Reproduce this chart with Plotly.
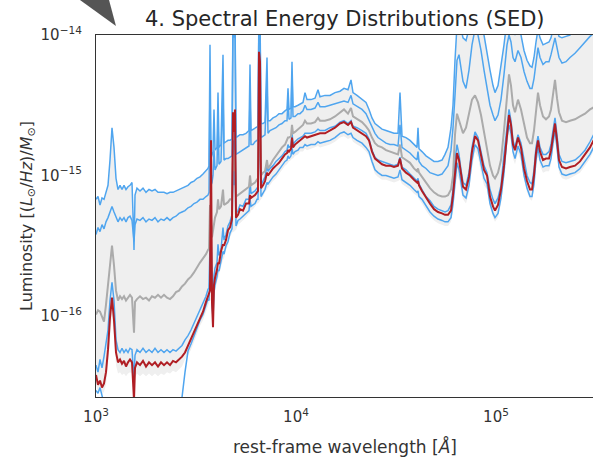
import numpy as np
import plotly.graph_objects as go

# ---------------------------------------------------------------------------
# Rest-frame wavelength grid, log10(lambda / Angstrom)
# ---------------------------------------------------------------------------
log_wave = [
    # UV
    3.000, 3.010, 3.020, 3.030, 3.040, 3.050, 3.060, 3.070, 3.080, 3.090,
    3.100, 3.110, 3.120, 3.130, 3.140, 3.150, 3.160, 3.170, 3.180, 3.185,
    3.190, 3.195, 3.205, 3.220, 3.235, 3.250, 3.265, 3.280, 3.295, 3.310,
    3.325, 3.340, 3.355, 3.370, 3.385, 3.400, 3.415, 3.430, 3.445, 3.460,
    3.475, 3.490, 3.505, 3.520, 3.535, 3.550, 3.560,
    # optical
    3.565, 3.570, 3.575, 3.580, 3.585, 3.590, 3.595, 3.605, 3.610, 3.615,
    3.625, 3.635, 3.640, 3.650, 3.660, 3.670, 3.680, 3.685, 3.690, 3.695,
    3.700, 3.710, 3.720, 3.735, 3.750, 3.765, 3.770, 3.775, 3.785, 3.795,
    3.805, 3.810, 3.815, 3.820, 3.825, 3.835, 3.845, 3.855, 3.860, 3.870,
    3.885, 3.900, 3.915, 3.930, 3.945, 3.955, 3.960, 3.965, 3.975, 3.980,
    3.985, 3.995, 4.010, 4.020,
    # infrared
    4.035, 4.045, 4.055, 4.075, 4.095, 4.110, 4.120, 4.145, 4.170, 4.195,
    4.220, 4.240, 4.260, 4.275, 4.285, 4.305, 4.330, 4.350, 4.365, 4.380,
    4.395, 4.410, 4.430, 4.450, 4.470, 4.490, 4.510, 4.520, 4.530, 4.550,
    4.570, 4.590, 4.605, 4.610, 4.615, 4.630, 4.650, 4.670, 4.690, 4.710,
    4.730, 4.745, 4.760, 4.775, 4.785, 4.795, 4.805, 4.815, 4.825, 4.835,
    4.850, 4.865, 4.880, 4.895, 4.910, 4.925, 4.940, 4.955, 4.970, 4.985,
    4.995, 5.010, 5.025, 5.040, 5.055, 5.065, 5.075, 5.085, 5.095, 5.110,
    5.125, 5.140, 5.155, 5.170, 5.180, 5.190, 5.200, 5.210, 5.220, 5.235,
    5.250, 5.265, 5.275, 5.285, 5.295, 5.305, 5.315, 5.330, 5.350, 5.370,
    5.395, 5.420, 5.445, 5.470, 5.495,
]

# ---------------------------------------------------------------------------
# log10 luminosity per unit mass [(Lsun/Hz)/Msun]
# ---------------------------------------------------------------------------
# blue model SED 1 (brightest)
log_sed_1 = [
    -15.17, -15.15, -15.21, -15.16, -15.17, -15.12, -15.07, -14.89, -14.66, -14.80,
    -15.02, -15.10, -15.07, -15.10, -15.07, -15.10, -15.08, -15.07, -15.05, -15.28,
    -15.53, -15.14, -15.09, -15.11, -15.09, -15.12, -15.10, -15.11, -15.10, -15.12,
    -15.12, -15.12, -15.13, -15.12, -15.12, -15.11, -15.10, -15.09, -15.08, -15.07,
    -15.05, -15.04, -15.02, -15.01, -14.99, -14.97, -14.95,
    -14.93, -14.07, -14.88, -14.86, -14.83, -14.53, -14.82, -14.80, -14.41, -14.80,
    -14.78, -14.14, -14.77, -14.76, -14.75, -14.75, -14.74, -13.86, -13.95, -13.84,
    -14.73, -14.72, -14.71, -14.71, -14.70, -14.68, -14.21, -14.68, -14.67, -14.66,
    -14.65, -14.65, -13.75, -13.82, -14.63, -14.63, -14.62, -14.16, -14.61, -14.61,
    -14.59, -14.58, -14.56, -14.56, -14.54, -14.53, -14.38, -14.53, -14.52, -14.19,
    -14.51, -14.51, -14.50, -14.49,
    -14.48, -14.41, -14.46, -14.46, -14.45, -14.39, -14.44, -14.43, -14.43, -14.41,
    -14.40, -14.38, -14.39, -14.32, -14.41, -14.43, -14.46, -14.48, -14.53, -14.59,
    -14.63, -14.65, -14.67, -14.68, -14.69, -14.70, -14.70, -14.41, -14.72, -14.73,
    -14.75, -14.78, -14.80, -14.66, -14.81, -14.83, -14.86, -14.88, -14.90, -14.90,
    -14.89, -14.85, -14.80, -14.66, -14.50, -14.18, -13.93, -13.89, -13.96, -14.02,
    -14.04, -13.96, -13.86, -13.79, -13.82, -13.89, -14.00, -14.14, -14.25, -14.36,
    -14.41, -14.36, -14.23, -14.07, -13.89, -13.84, -13.88, -13.96, -14.00, -13.95,
    -14.00, -14.11, -14.18, -14.22, -14.23, -14.16, -14.05, -13.96, -14.02, -14.07,
    -14.06, -14.05, -14.02, -13.96, -13.93, -13.96, -14.01, -14.02, -14.01, -14.00,
    -13.96, -13.92, -13.87, -13.81, -13.75,
]

# blue model SED 2
log_sed_2 = [
    -15.42, -15.37, -15.40, -15.35, -15.38, -15.33, -15.30, -15.26, -15.22, -15.26,
    -15.30, -15.33, -15.30, -15.32, -15.30, -15.33, -15.30, -15.29, -15.32, -15.40,
    -15.47, -15.35, -15.31, -15.32, -15.30, -15.33, -15.31, -15.32, -15.30, -15.33,
    -15.31, -15.32, -15.30, -15.32, -15.30, -15.29, -15.27, -15.26, -15.25, -15.23,
    -15.22, -15.20, -15.19, -15.17, -15.17, -15.15, -15.14,
    -15.12, -14.32, -15.07, -15.05, -15.00, -14.82, -14.96, -14.93, -14.61, -14.92,
    -14.90, -14.39, -14.89, -14.88, -14.88, -14.87, -14.86, -13.91, -14.02, -13.88,
    -14.85, -14.84, -14.83, -14.82, -14.80, -14.79, -14.43, -14.78, -14.78, -14.76,
    -14.75, -14.74, -13.79, -13.86, -14.73, -14.72, -14.71, -14.32, -14.70, -14.68,
    -14.67, -14.66, -14.64, -14.63, -14.61, -14.61, -14.46, -14.60, -14.59, -14.28,
    -14.58, -14.58, -14.56, -14.56,
    -14.54, -14.50, -14.53, -14.53, -14.52, -14.48, -14.51, -14.51, -14.50, -14.49,
    -14.48, -14.47, -14.48, -14.43, -14.49, -14.51, -14.53, -14.56, -14.61, -14.66,
    -14.70, -14.73, -14.75, -14.77, -14.78, -14.78, -14.79, -14.64, -14.80, -14.82,
    -14.84, -14.87, -14.89, -14.83, -14.90, -14.93, -14.95, -14.98, -14.99, -15.00,
    -14.99, -14.96, -14.93, -14.82, -14.66, -14.43, -14.18, -14.14, -14.25, -14.33,
    -14.38, -14.25, -14.07, -13.96, -14.00, -14.11, -14.25, -14.39, -14.50, -14.57,
    -14.61, -14.57, -14.46, -14.28, -14.07, -14.00, -14.05, -14.16, -14.19, -14.11,
    -14.16, -14.26, -14.33, -14.38, -14.38, -14.31, -14.19, -14.09, -14.16, -14.21,
    -14.19, -14.19, -14.14, -14.07, -14.02, -14.09, -14.16, -14.20, -14.19, -14.16,
    -14.13, -14.09, -14.05, -14.01, -13.98,
]

# median of the posterior SEDs
log_median = [
    -15.99, -15.96, -15.97, -16.01, -16.04, -15.92, -15.78, -15.62, -15.50, -15.64,
    -15.82, -15.89, -15.86, -15.88, -15.86, -15.89, -15.87, -15.85, -15.87, -16.01,
    -16.12, -15.90, -15.88, -15.86, -15.88, -15.87, -15.89, -15.86, -15.87, -15.85,
    -15.87, -15.85, -15.87, -15.88, -15.86, -15.83, -15.82, -15.79, -15.77, -15.74,
    -15.72, -15.69, -15.65, -15.62, -15.59, -15.56, -15.53,
    -15.52, -15.21, -15.28, -15.44, -15.40, -15.35, -15.30, -15.26, -15.17, -15.24,
    -15.22, -15.10, -15.21, -15.20, -15.19, -15.17, -15.17, -14.85, -14.97, -14.82,
    -15.15, -15.14, -15.13, -15.11, -15.10, -15.08, -15.00, -15.07, -15.06, -15.05,
    -15.03, -15.02, -14.53, -14.64, -15.00, -14.98, -14.97, -14.89, -14.95, -14.93,
    -14.89, -14.86, -14.83, -14.80, -14.78, -14.75, -14.73, -14.73, -14.72, -14.64,
    -14.70, -14.69, -14.67, -14.66,
    -14.64, -14.61, -14.63, -14.63, -14.62, -14.59, -14.61, -14.61, -14.60, -14.58,
    -14.55, -14.53, -14.56, -14.52, -14.58, -14.60, -14.62, -14.65, -14.68, -14.73,
    -14.77, -14.79, -14.80, -14.82, -14.83, -14.84, -14.85, -14.78, -14.87, -14.89,
    -14.91, -14.95, -14.97, -14.95, -14.98, -15.01, -15.05, -15.09, -15.12, -15.14,
    -15.15, -15.15, -15.14, -15.10, -15.00, -14.71, -14.56, -14.61, -14.66, -14.70,
    -14.66, -14.57, -14.46, -14.43, -14.48, -14.57, -14.69, -14.82, -14.93, -15.00,
    -15.02, -14.98, -14.89, -14.68, -14.43, -14.28, -14.36, -14.50, -14.55, -14.46,
    -14.53, -14.64, -14.73, -14.77, -14.77, -14.68, -14.53, -14.41, -14.50, -14.58,
    -14.60, -14.58, -14.53, -14.41, -14.32, -14.45, -14.55, -14.61, -14.62, -14.61,
    -14.60, -14.58, -14.56, -14.53, -14.51,
]

# blue model SED 3
log_sed_3 = [
    -16.35, -16.40, -16.31, -16.37, -16.29, -16.21, -16.10, -15.89, -15.76, -15.89,
    -16.17, -16.24, -16.26, -16.23, -16.26, -16.24, -16.26, -16.23, -16.24, -16.35,
    -16.44, -16.28, -16.24, -16.26, -16.23, -16.26, -16.24, -16.26, -16.23, -16.26,
    -16.24, -16.26, -16.24, -16.26, -16.24, -16.25, -16.23, -16.21, -16.17, -16.14,
    -16.10, -16.05, -16.01, -15.96, -15.91, -15.86, -15.81,
    -15.80, -15.49, -15.39, -15.76, -15.89, -15.71, -15.66, -15.62, -15.49, -15.57,
    -15.53, -15.37, -15.46, -15.42, -15.36, -15.33, -15.28, -14.75, -14.93, -14.64,
    -15.27, -15.25, -15.21, -15.22, -15.17, -15.17, -15.03, -15.13, -15.12, -15.11,
    -15.09, -15.08, -14.36, -14.46, -15.07, -15.04, -15.01, -14.93, -14.97, -14.95,
    -14.93, -14.90, -14.88, -14.86, -14.83, -14.82, -14.78, -14.80, -14.79, -14.69,
    -14.78, -14.76, -14.74, -14.73,
    -14.72, -14.70, -14.70, -14.70, -14.69, -14.67, -14.68, -14.68, -14.66, -14.65,
    -14.62, -14.61, -14.63, -14.61, -14.65, -14.66, -14.68, -14.70, -14.74, -14.82,
    -14.87, -14.89, -14.90, -14.91, -14.92, -14.93, -14.92, -14.87, -14.94, -14.96,
    -14.99, -15.02, -15.04, -15.02, -15.06, -15.10, -15.15, -15.18, -15.22, -15.24,
    -15.25, -15.26, -15.25, -15.21, -15.10, -14.89, -14.78, -14.85, -14.96, -15.05,
    -15.07, -14.98, -14.80, -14.69, -14.73, -14.83, -14.93, -14.98, -15.10, -15.17,
    -15.20, -15.16, -15.07, -14.85, -14.64, -14.53, -14.61, -14.75, -14.80, -14.71,
    -14.77, -14.90, -15.00, -15.05, -15.06, -14.96, -14.80, -14.72, -14.80, -14.85,
    -14.85, -14.83, -14.78, -14.68, -14.59, -14.71, -14.85, -14.90, -14.91, -14.90,
    -14.89, -14.86, -14.82, -14.76, -14.69,
]

# best-fit SED
log_best = [
    -16.42, -16.49, -16.46, -16.51, -16.48, -16.40, -16.24, -16.01, -15.87, -16.03,
    -16.26, -16.33, -16.31, -16.34, -16.32, -16.36, -16.33, -16.31, -16.33, -16.49,
    -16.60, -16.37, -16.33, -16.35, -16.32, -16.36, -16.33, -16.35, -16.33, -16.36,
    -16.33, -16.35, -16.33, -16.35, -16.32, -16.33, -16.31, -16.29, -16.26, -16.21,
    -16.17, -16.12, -16.07, -16.01, -15.97, -15.90, -15.85,
    -15.84, -15.82, -14.75, -15.90, -16.08, -15.78, -15.73, -15.67, -15.62, -15.63,
    -15.54, -15.49, -15.50, -15.46, -15.39, -15.37, -15.31, -14.55, -14.69, -14.53,
    -15.30, -15.28, -15.24, -15.25, -15.20, -15.20, -15.14, -15.16, -15.15, -15.14,
    -15.12, -15.11, -14.12, -14.19, -15.09, -15.07, -15.04, -14.98, -15.00, -14.98,
    -14.95, -14.93, -14.91, -14.88, -14.85, -14.84, -14.82, -14.83, -14.81, -14.73,
    -14.80, -14.78, -14.76, -14.75,
    -14.73, -14.72, -14.73, -14.72, -14.71, -14.70, -14.70, -14.70, -14.68, -14.66,
    -14.63, -14.62, -14.64, -14.62, -14.66, -14.68, -14.70, -14.72, -14.75, -14.83,
    -14.88, -14.90, -14.92, -14.93, -14.93, -14.94, -14.93, -14.88, -14.95, -14.98,
    -15.00, -15.03, -15.05, -15.04, -15.07, -15.11, -15.16, -15.20, -15.24, -15.26,
    -15.27, -15.28, -15.28, -15.25, -15.14, -14.96, -14.84, -14.89, -15.00, -15.08,
    -15.10, -15.01, -14.83, -14.72, -14.75, -14.87, -14.96, -15.00, -15.15, -15.22,
    -15.25, -15.21, -15.10, -14.93, -14.68, -14.57, -14.64, -14.78, -14.82, -14.73,
    -14.80, -14.95, -15.04, -15.10, -15.10, -15.00, -14.84, -14.75, -14.83, -14.89,
    -14.88, -14.88, -14.82, -14.71, -14.63, -14.75, -14.89, -14.94, -14.95, -14.94,
    -14.93, -14.90, -14.85, -14.80, -14.73,
]

# blue model SED 4 (faintest)
log_sed_4 = [
    -16.53, -16.55, -16.51, -16.57, -16.61, -16.68, -16.70, -16.70, -16.70, -16.70,
    -16.70, -16.70, -16.70, -16.70, -16.70, -16.70, -16.70, -16.70, -16.70, -16.70,
    -16.70, -16.70, -16.70, -16.70, -16.70, -16.70, -16.70, -16.70, -16.70, -16.70,
    -16.70, -16.70, -16.70, -16.70, -16.70, -16.70, -16.68, -16.58, -16.40, -16.25,
    -16.20, -16.14, -16.09, -16.03, -15.99, -15.93, -15.88,
    -15.89, -15.64, -15.53, -15.92, -16.01, -15.83, -15.78, -15.72, -15.67, -15.68,
    -15.62, -15.54, -15.56, -15.50, -15.47, -15.41, -15.38, -14.96, -15.07, -14.85,
    -15.36, -15.32, -15.31, -15.29, -15.27, -15.25, -15.17, -15.22, -15.21, -15.20,
    -15.17, -15.17, -14.64, -14.75, -15.15, -15.12, -15.10, -15.05, -15.06, -15.04,
    -15.01, -14.99, -14.96, -14.93, -14.90, -14.89, -14.86, -14.88, -14.86, -14.80,
    -14.85, -14.83, -14.82, -14.80,
    -14.80, -14.78, -14.79, -14.78, -14.78, -14.76, -14.77, -14.76, -14.75, -14.73,
    -14.70, -14.69, -14.71, -14.70, -14.73, -14.75, -14.77, -14.80, -14.83, -14.90,
    -14.96, -14.98, -15.00, -15.00, -15.01, -15.02, -15.01, -14.96, -15.03, -15.05,
    -15.07, -15.10, -15.12, -15.11, -15.15, -15.17, -15.22, -15.26, -15.29, -15.31,
    -15.32, -15.33, -15.33, -15.30, -15.20, -15.03, -14.91, -14.96, -15.07, -15.14,
    -15.16, -15.07, -14.89, -14.78, -14.81, -14.93, -15.02, -15.06, -15.20, -15.27,
    -15.30, -15.27, -15.16, -14.98, -14.73, -14.64, -14.70, -14.83, -14.88, -14.79,
    -14.85, -15.00, -15.09, -15.15, -15.15, -15.06, -14.89, -14.80, -14.89, -14.94,
    -14.93, -14.93, -14.88, -14.77, -14.68, -14.80, -14.94, -14.99, -15.00, -14.99,
    -14.98, -14.95, -14.90, -14.85, -14.78,
]

# lower edge of the shaded credible band (upper edge follows SED 1)
log_band_low = [
    -16.49, -16.54, -16.51, -16.56, -16.54, -16.49, -16.35, -16.14, -15.99, -16.14,
    -16.35, -16.41, -16.40, -16.42, -16.41, -16.43, -16.41, -16.40, -16.41, -16.53,
    -16.60, -16.44, -16.41, -16.43, -16.41, -16.43, -16.41, -16.43, -16.41, -16.43,
    -16.41, -16.42, -16.40, -16.41, -16.39, -16.40, -16.38, -16.36, -16.31, -16.28,
    -16.24, -16.19, -16.13, -16.07, -16.03, -15.97, -15.92,
    -15.91, -15.89, -15.89, -15.96, -16.10, -15.89, -15.82, -15.76, -15.73, -15.72,
    -15.64, -15.60, -15.59, -15.53, -15.50, -15.44, -15.41, -15.40, -15.40, -15.39,
    -15.39, -15.35, -15.34, -15.32, -15.30, -15.27, -15.27, -15.25, -15.24, -15.22,
    -15.20, -15.20, -15.19, -15.18, -15.17, -15.15, -15.12, -15.10, -15.09, -15.07,
    -15.04, -15.02, -14.99, -14.96, -14.93, -14.92, -14.91, -14.90, -14.89, -14.88,
    -14.88, -14.86, -14.85, -14.83,
    -14.83, -14.81, -14.82, -14.81, -14.80, -14.79, -14.80, -14.79, -14.78, -14.76,
    -14.73, -14.72, -14.74, -14.73, -14.76, -14.78, -14.80, -14.83, -14.86, -14.93,
    -14.99, -15.01, -15.03, -15.03, -15.04, -15.05, -15.04, -15.03, -15.06, -15.08,
    -15.10, -15.13, -15.15, -15.15, -15.17, -15.20, -15.25, -15.29, -15.32, -15.34,
    -15.35, -15.36, -15.36, -15.33, -15.26, -15.14, -15.00, -15.03, -15.12, -15.17,
    -15.20, -15.12, -14.95, -14.83, -14.87, -14.98, -15.07, -15.10, -15.23, -15.30,
    -15.33, -15.30, -15.20, -15.03, -14.80, -14.71, -14.76, -14.88, -14.92, -14.84,
    -14.90, -15.03, -15.12, -15.17, -15.18, -15.10, -14.95, -14.86, -14.93, -14.98,
    -14.97, -14.97, -14.92, -14.82, -14.75, -14.85, -14.98, -15.02, -15.03, -15.02,
    -15.00, -14.98, -14.93, -14.88, -14.80,
]

x_ticks = [1e3, 1e4, 1e5]
x_tick_text = ["10<sup>3</sup>", "10<sup>4</sup>", "10<sup>5</sup>"]
y_ticks = [1e-16, 1e-15, 1e-14]
y_tick_text = ["10<sup>\u221216</sup>", "10<sup>\u221215</sup>", "10<sup>\u221214</sup>"]

BLUE = "#4fa5ef"
GRAY = "#ababab"
RED = "#b01e24"
BAND = "#efefef"
INK = "#333333"
FONT = "DejaVu Sans"

wave = 10 ** np.array(log_wave)


def lum(values):
    return 10 ** np.array(values)


fig = go.Figure()

# shaded band
fig.add_trace(go.Scatter(x=wave, y=lum(log_band_low), mode="lines",
                         line=dict(width=0, color=BAND), hoverinfo="skip"))
fig.add_trace(go.Scatter(x=wave, y=lum(log_sed_1), mode="lines",
                         line=dict(width=0, color=BAND), fill="tonexty",
                         fillcolor=BAND, hoverinfo="skip"))

# individual model SEDs
for series in (log_sed_4, log_sed_3, log_sed_2, log_sed_1):
    fig.add_trace(go.Scatter(x=wave, y=lum(series), mode="lines",
                             line=dict(color=BLUE, width=1.5)))

fig.add_trace(go.Scatter(x=wave, y=lum(log_median), mode="lines",
                         line=dict(color=GRAY, width=2)))
fig.add_trace(go.Scatter(x=wave, y=lum(log_best), mode="lines",
                         line=dict(color=RED, width=2)))

fig.update_layout(
    width=593, height=460,
    margin=dict(l=96, r=0, t=35, b=63),
    paper_bgcolor="white", plot_bgcolor="white",
    showlegend=False,
    font=dict(family=FONT, color=INK),
    xaxis=dict(type="log", range=[3, 5.485], tickvals=x_ticks, ticktext=x_tick_text,
               showline=True, mirror=True, linecolor=INK, linewidth=1.3,
               showgrid=False, zeroline=False, ticks="",
               tickfont=dict(size=15, color=INK, family=FONT),
               ticklabelstandoff=6),
    yaxis=dict(type="log", range=[-16.577, -14], tickvals=y_ticks, ticktext=y_tick_text,
               showline=True, mirror=False, linecolor=INK, linewidth=1.3,
               showgrid=False, zeroline=False, ticks="",
               tickfont=dict(size=15, color=INK, family=FONT),
               ticklabelstandoff=10),
    annotations=[
        dict(text="4. Spectral Energy Distributions (SED)", xref="paper", yref="paper",
             x=0.501, y=1.045, xanchor="center", yanchor="middle", showarrow=False,
             font=dict(size=21, color="#262626", family=FONT)),
        dict(text="rest-frame wavelength [<i>Å</i>]", xref="paper", yref="paper",
             x=0.501, y=-0.138, xanchor="center", yanchor="middle", showarrow=False,
             font=dict(size=17, color=INK, family=FONT)),
        dict(text="Luminosity [(<i>L</i><sub>\u2299</sub>/<i>Hz</i>)/<i>M</i><sub>\u2299</sub>]",
             xref="paper", yref="paper", x=-0.139, y=0.5, textangle=-90,
             xanchor="center", yanchor="middle", showarrow=False,
             font=dict(size=16, color=INK, family=FONT)),
    ],
    shapes=[
        dict(type="path", xref="paper", yref="paper", layer="above",
             path="M -0.0322,1.0967 L 0.0262,1.0967 L 0.0402,1.0249 Z",
             fillcolor="#555555", line=dict(width=0)),
    ],
)

fig.write_html("out.html")
